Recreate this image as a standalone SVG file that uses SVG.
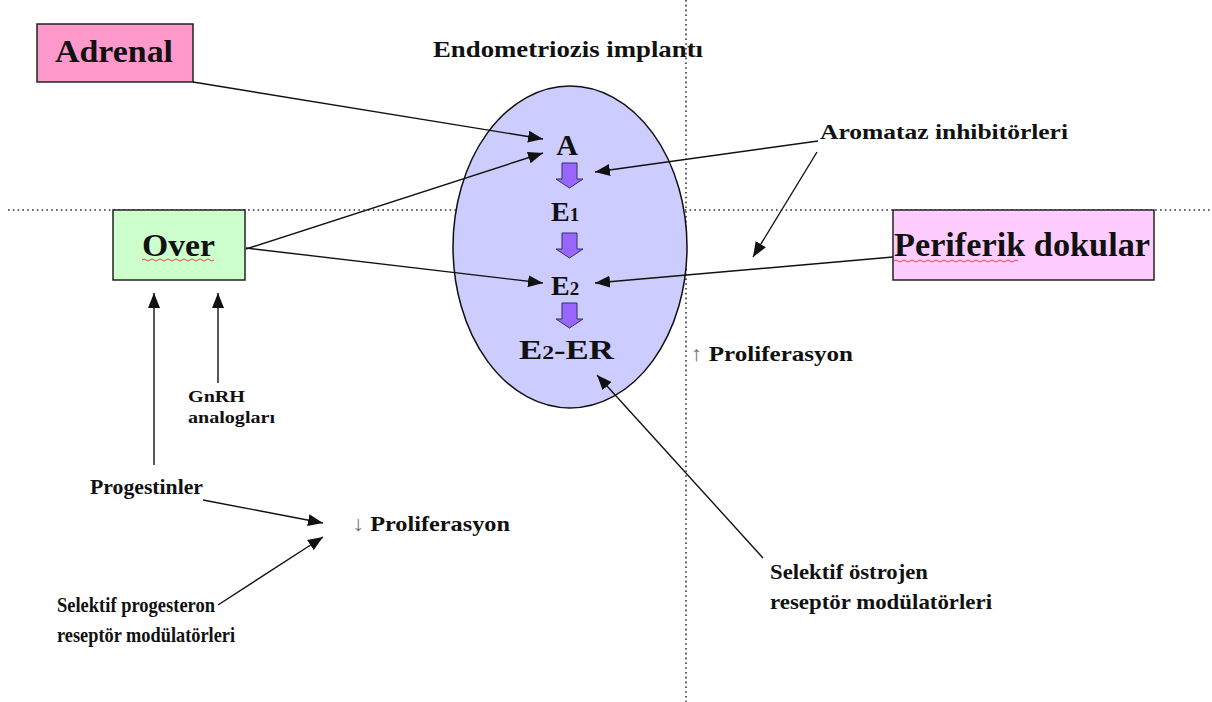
<svg xmlns="http://www.w3.org/2000/svg" width="1212" height="702" viewBox="0 0 1212 702">
<style>
.t{font-family:"Liberation Serif","Times New Roman",serif;font-weight:bold;fill:#111}
.box{stroke:#222;stroke-width:1.5}
.ln{stroke:#111;stroke-width:1.4;fill:none;marker-end:url(#ah)}
.dot{stroke:#333;stroke-width:1.6;stroke-dasharray:1.6 3.2;fill:none}
.blk{fill:#9966FF;stroke:#333366;stroke-width:1}
.wavy{stroke:#E03030;stroke-width:0.9;fill:none}
</style>
<defs>
<marker id="ah" markerUnits="userSpaceOnUse" markerWidth="16" markerHeight="12" refX="15" refY="6" orient="auto">
<path d="M0,0 L15,6 L0,12 Z" fill="#111"/>
</marker>
</defs>
<rect width="1212" height="702" fill="#fff"/>
<g id="guides">
<line class="dot" x1="686" y1="0" x2="686" y2="702"/>
<line class="dot" x1="8" y1="210" x2="1212" y2="210"/>
</g>
<g id="implant">
<ellipse cx="570" cy="247" rx="117" ry="161" fill="#CCCCFF" stroke="#111" stroke-width="1.5"/>
<text class="t" x="433" y="57" font-size="24" textLength="270" lengthAdjust="spacingAndGlyphs">Endometriozis implantı</text>
<text class="t" x="567" y="155" font-size="30" text-anchor="middle">A</text>
<text class="t" x="551" y="221" font-size="28">E<tspan font-size="19">1</tspan></text>
<text class="t" x="551" y="295" font-size="28">E<tspan font-size="19">2</tspan></text>
<text class="t" x="519" y="359" font-size="28" textLength="95" lengthAdjust="spacingAndGlyphs">E<tspan font-size="19">2</tspan>-ER</text>
<path class="blk" d="M562,163 H577 V179 H583 L569.5,188 L556,179 H562 Z"/>
<path class="blk" d="M562,233 H577 V249 H583 L569.5,258 L556,249 H562 Z"/>
<path class="blk" d="M562,303 H577 V319 H583 L569.5,328 L556,319 H562 Z"/>
</g>
<g id="adrenal">
<rect class="box" x="37" y="24" width="156" height="58" fill="#FF99CC"/>
<text class="t" x="55" y="62" font-size="32" textLength="118" lengthAdjust="spacingAndGlyphs">Adrenal</text>
</g>
<g id="over">
<rect class="box" x="113" y="210" width="132" height="70" fill="#CCFFCC"/>
<text class="t" x="142" y="256" font-size="32" textLength="73" lengthAdjust="spacingAndGlyphs">Over</text>
<path class="wavy" d="M142,260 q2,-2 4,0 t4,0 t4,0 t4,0 t4,0 t4,0 t4,0 t4,0 t4,0 t4,0 t4,0 t4,0 t4,0 t4,0 t4,0 t4,0 t4,0 t4,0"/>
</g>
<g id="periferik">
<rect class="box" x="893" y="210" width="261" height="70" fill="#FFCCFF"/>
<text class="t" x="894" y="256" font-size="34" textLength="256" lengthAdjust="spacingAndGlyphs">Periferik dokular</text>
<path class="wavy" d="M894,261 q2,-2 4,0 t4,0 t4,0 t4,0 t4,0 t4,0 t4,0 t4,0 t4,0 t4,0 t4,0 t4,0 t4,0 t4,0 t4,0 t4,0 t4,0 t4,0 t4,0 t4,0 t4,0 t4,0 t4,0 t4,0 t4,0 t4,0 t4,0 t4,0 t4,0 t4,0 t4,0"/>
</g>
<g id="aromataz">
<text class="t" x="820" y="139" font-size="21" textLength="248" lengthAdjust="spacingAndGlyphs">Aromataz inhibitörleri</text>
</g>
<g id="prolif-up">
<text class="t" x="690" y="361" font-size="21" textLength="163" lengthAdjust="spacingAndGlyphs"><tspan font-weight="normal" fill="#777">↑</tspan> Proliferasyon</text>
</g>
<g id="gnrh">
<text class="t" x="188" y="402" font-size="16" textLength="57" lengthAdjust="spacingAndGlyphs">GnRH</text>
<text class="t" x="188" y="423" font-size="16" textLength="87" lengthAdjust="spacingAndGlyphs">analogları</text>
</g>
<g id="progestinler">
<text class="t" x="90" y="494" font-size="22" textLength="113" lengthAdjust="spacingAndGlyphs">Progestinler</text>
</g>
<g id="prolif-down">
<text class="t" x="352" y="531" font-size="21" textLength="158" lengthAdjust="spacingAndGlyphs"><tspan font-weight="normal" fill="#777">↓</tspan> Proliferasyon</text>
</g>
<g id="spm">
<text class="t" x="57" y="612" font-size="21" textLength="158" lengthAdjust="spacingAndGlyphs">Selektif progesteron</text>
<text class="t" x="57" y="642" font-size="21" textLength="178" lengthAdjust="spacingAndGlyphs">reseptör modülatörleri</text>
</g>
<g id="serm">
<text class="t" x="770" y="579" font-size="22" textLength="158" lengthAdjust="spacingAndGlyphs">Selektif östrojen</text>
<text class="t" x="770" y="609" font-size="22" textLength="222" lengthAdjust="spacingAndGlyphs">reseptör modülatörleri</text>
</g>
<g id="connectors">
<line class="ln" x1="193" y1="82" x2="543" y2="139"/>
<line class="ln" x1="246" y1="249" x2="543" y2="153"/>
<line class="ln" x1="246" y1="248" x2="543" y2="283"/>
<line class="ln" x1="818" y1="141" x2="595" y2="172"/>
<line class="ln" x1="817" y1="152" x2="753" y2="257"/>
<line class="ln" x1="893" y1="257" x2="595" y2="283"/>
<line class="ln" x1="763" y1="558" x2="597" y2="375"/>
<line class="ln" x1="154" y1="465" x2="154" y2="293"/>
<line class="ln" x1="218" y1="383" x2="218" y2="293"/>
<line class="ln" x1="203" y1="500" x2="323" y2="523"/>
<line class="ln" x1="218" y1="605" x2="323" y2="537"/>
</g>
</svg>
